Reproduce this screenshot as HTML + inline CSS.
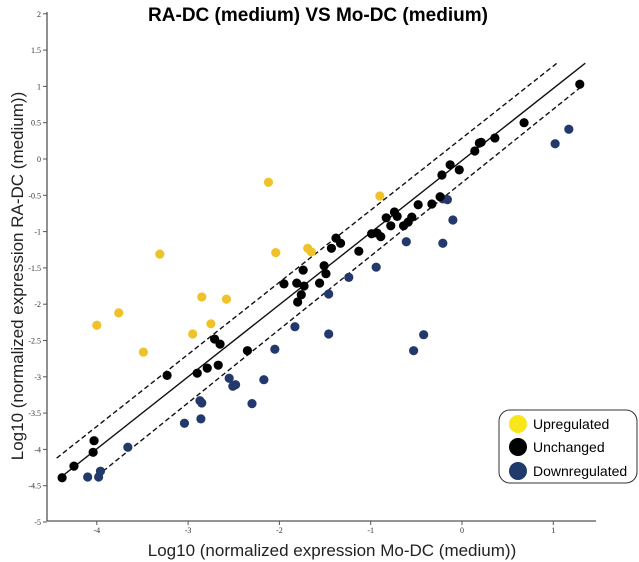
<!DOCTYPE html>
<html><head><meta charset="utf-8"><style>
html,body{margin:0;padding:0;background:#fff;}
svg{display:block;font-family:"Liberation Sans",Arial,sans-serif;}
</style></head><body>
<svg id="chart" width="639" height="562" viewBox="0 0 639 562" xmlns="http://www.w3.org/2000/svg">
<text x="318" y="21" text-anchor="middle" font-size="19" font-weight="bold">RA-DC (medium) VS Mo-DC (medium)</text>
<g id="axes"></g>
<g id="lines"></g>
<g id="points"></g>
<text x="332" y="556" text-anchor="middle" font-size="17" fill="#222">Log10 (normalized expression Mo-DC (medium))</text>
<text transform="translate(23,276) rotate(-90)" text-anchor="middle" font-size="17" fill="#222">Log10 (normalized expression RA-DC (medium))</text>
<g>
<rect x="499" y="410" width="138" height="73" rx="11" fill="#fff" stroke="#333" stroke-width="1"/>
<g><circle cx="518" cy="424" r="9" fill="#f7e61a"/><text x="533" y="429" font-size="14">Upregulated</text></g>
<g><circle cx="518" cy="447" r="9" fill="#000"/><text x="533" y="452" font-size="14">Unchanged</text></g>
<g><circle cx="518" cy="471" r="9" fill="#1f3a6b"/><text x="533" y="476" font-size="14">Downregulated</text></g>
</g>
</svg>
<script>
const xTicks=[-4,-3,-2,-1,0,1];
const xTickLabels=["-4","-3","-2","-1","0","1"];
const yTicks=[2,1.5,1,0.5,0,-0.5,-1,-1.5,-2,-2.5,-3,-3.5,-4,-4.5,-5];
const yTickLabels=["2","1.5","1","0.5","0","-0.5","-1","-1.5","-2","-2.5","-3","-3.5","-4","-4.5","-5"];
const upX=[-3.31,-2.12,-2.04,-1.69,-1.65,-2.85,-2.58,-3.76,-4.0,-2.75,-2.95,-3.49,-0.90];
const upY=[-1.31,-0.32,-1.29,-1.23,-1.28,-1.90,-1.93,-2.12,-2.29,-2.27,-2.41,-2.66,-0.51];
const unX=[-4.38,-4.25,-4.03,-4.04,-3.23,-2.90,-2.79,-2.71,-2.65,-2.67,-2.35,-1.95,-1.81,-1.73,-1.74,-1.76,-1.80,-1.56,-1.49,-1.51,-1.43,-1.38,-1.33,-1.13,-0.99,-0.93,-0.89,-0.83,-0.78,-0.74,-0.71,-0.64,-0.59,-0.55,-0.48,-0.33,-0.24,-0.22,-0.13,-0.03,0.14,0.19,0.21,0.36,0.68,1.29];
const unY=[-4.39,-4.23,-3.88,-4.04,-2.98,-2.95,-2.88,-2.48,-2.55,-2.84,-2.64,-1.72,-1.71,-1.75,-1.53,-1.87,-1.97,-1.71,-1.58,-1.47,-1.23,-1.09,-1.16,-1.27,-1.03,-1.02,-1.07,-0.81,-0.92,-0.73,-0.79,-0.92,-0.87,-0.80,-0.63,-0.62,-0.52,-0.22,-0.08,-0.15,0.11,0.22,0.23,0.29,0.50,1.03];
const downX=[-4.10,-3.98,-3.96,-3.66,-3.04,-2.86,-2.87,-2.85,-2.55,-2.51,-2.48,-2.30,-2.17,-2.05,-1.83,-1.46,-1.24,-0.94,-0.61,-0.21,-0.10,-0.21,-0.16,1.02,1.17,-1.46,-0.42,-0.53];
const downY=[-4.38,-4.38,-4.30,-3.97,-3.64,-3.58,-3.33,-3.36,-3.02,-3.13,-3.11,-3.37,-3.04,-2.62,-2.31,-1.86,-1.63,-1.49,-1.14,-1.16,-0.84,-0.55,-0.56,0.21,0.41,-2.41,-2.42,-2.64];
const lineNames=["solid-fit-line","upper-dashed-line","lower-dashed-line"];
const lineX1=[-4.40,-4.44,-4.00];
const lineY1=[-4.39,-4.12,-4.37];
const lineX2=[1.35,1.04,1.33];
const lineY2=[1.32,1.32,1.02];

const NS="http://www.w3.org/2000/svg";
function sx(v){return 462+91.3*v;}
function sy(v){return 159-72.6*v;}
function mk(tag,attrs,parent){const e=document.createElementNS(NS,tag);for(const k in attrs)e.setAttribute(k,attrs[k]);parent.appendChild(e);return e;}
const axes=document.getElementById('axes');
let a=mk('line',{x1:47,y1:12,x2:47,y2:521,stroke:'#555','stroke-width':1.3},axes);


a=mk('line',{x1:47,y1:521,x2:596,y2:521,stroke:'#555','stroke-width':1.3},axes);


yTicks.forEach((v,i)=>{
  const y=sy(v);
  mk('line',{x1:43,y1:y,x2:47,y2:y,stroke:'#555'},axes);
  const t=mk('text',{x:41,y:y+3,'text-anchor':'end','font-size':8,'font-family':'Liberation Serif, serif',fill:'#333'},axes);
  t.textContent=yTickLabels[i];
  
  
});
xTicks.forEach((v,i)=>{
  const x=sx(v);
  mk('line',{x1:x,y1:521,x2:x,y2:525,stroke:'#555'},axes);
  const t=mk('text',{x:x,y:533,'text-anchor':'middle','font-size':8,'font-family':'Liberation Serif, serif',fill:'#333'},axes);
  t.textContent=xTickLabels[i];
  
  
});
const lg=document.getElementById('lines');
lineNames.forEach((n,i)=>{
  const l=mk('line',{x1:sx(lineX1[i]),y1:sy(lineY1[i]),x2:sx(lineX2[i]),y2:sy(lineY2[i]),stroke:'#111','stroke-width':1.4},lg);
  if(i>0)l.setAttribute('stroke-dasharray','5,3');
  
  
});
const pg=document.getElementById('points');
function series(xs,ys,color,name){
  xs.forEach((x,i)=>{
    const c=mk('circle',{cx:sx(x),cy:sy(ys[i]),r:4.6,fill:color},pg);
    
    
  });
}
series(upX,upY,'#f0c22a','upregulated-point');
series(downX,downY,'#23396b','downregulated-point');
series(unX,unY,'#000','unchanged-point');
</script>
</body></html>
